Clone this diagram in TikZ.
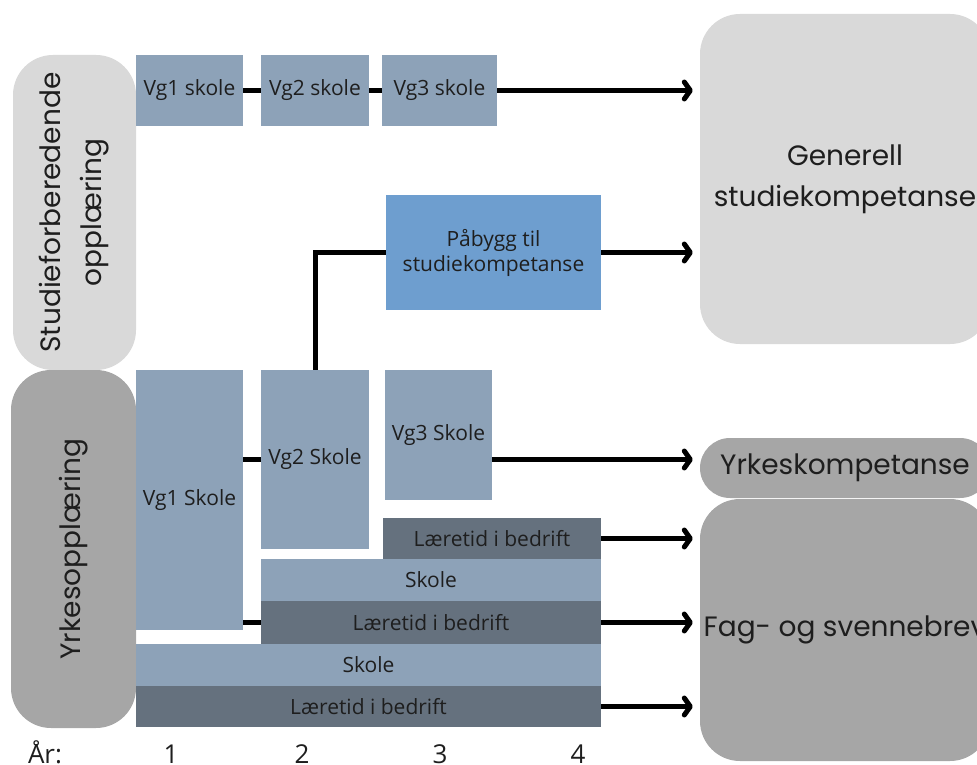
\documentclass[tikz,border=0pt]{standalone}
\usepackage{fontspec}
\setmainfont{Open Sans}
\newfontfamily\labelfont{Poppins}
\usetikzlibrary{arrows.meta}

\definecolor{boxblue}{RGB}{141,162,184}
\definecolor{boxdark}{RGB}{101,113,126}
\definecolor{pabblue}{RGB}{110,158,207}
\definecolor{lgray}{RGB}{217,217,217}
\definecolor{mgray}{RGB}{166,166,166}
\definecolor{ink}{RGB}{30,30,30}

\tikzset{
  box/.style={fill=boxblue, inner sep=0pt, text=ink, align=center,
              font=\fontsize{21}{25}\selectfont},
  dbox/.style={box, fill=boxdark},
  pbox/.style={box, fill=pabblue},
  sz/.style 2 args={minimum width=#1pt, minimum height=#2pt},
  pill/.style={inner sep=0pt, rounded corners=40pt},
  biglabel/.style={text=ink, font=\labelfont\fontsize{28}{41}\selectfont, align=center},
  link/.style={line width=5pt},
  arr/.style={line width=5pt, -{Straight Barb[round, length=6pt, width=17pt]}, shorten >=7pt},
  yearlbl/.style={anchor=base, text=ink, font=\fontsize{26}{30}\selectfont}
}

\begin{document}
\begin{tikzpicture}[x=1pt,y=-1pt]
\useasboundingbox (0,0) rectangle (977,765);
\clip (0,0) rectangle (977,765);

% programme pillars on the left
\node[pill, fill=lgray, sz={123}{315}] (sfo) at (74.5,212.5) {};
\node[biglabel, rotate=90] at (sfo.center) {Studieforberedende\\opplæring};
\node[pill, fill=mgray, sz={125}{358}] (yo) at (73.5,549) {};
\node[biglabel, rotate=90] at (yo.center) {Yrkesopplæring};

% outcomes on the right
\node[pill, fill=lgray, sz={290}{330}, biglabel] (gsk) at (845,179) {Generell\\studiekompetanse};
\node[pill, fill=mgray, rounded corners=30pt, sz={290}{60}, biglabel] (yk) at (845,468) {Yrkeskompetanse};
\node[pill, fill=mgray, sz={290}{262}, biglabel] (fag) at (845,630) {Fag- og svennebrev};

% general studies track
\node[box, sz={107}{71}] (s1) at (189.5,90.5) {Vg1 skole};
\node[box, sz={108}{71}] (s2) at (315,90.5) {Vg2 skole};
\node[box, sz={115}{71}] (s3) at (439.5,90.5) {Vg3 skole};
\node[pbox, sz={215}{115}] (pab) at (493.5,252.5) {Påbygg til\\studiekompetanse};

% vocational track
\node[box, sz={107}{260}] (v1) at (189.5,500) {Vg1 Skole};
\node[box, sz={108}{179}] (v2) at (315,459.5) {Vg2 Skole};
\node[box, sz={107}{130}] (v3) at (438.5,435) {Vg3 Skole};
\node[dbox, sz={218}{41}] (l3) at (492,538.5) {Læretid i bedrift};
\node[box, sz={340}{42}] (k2) at (431,580) {Skole};
\node[dbox, sz={340}{43}] (l2) at (431,622.5) {Læretid i bedrift};
\node[box, sz={465}{42}] (k1) at (368.5,665) {Skole};
\node[dbox, sz={465}{41}] (l1) at (368.5,706.5) {Læretid i bedrift};

% links between school years
\draw[link] (s1.east) -- (s2.west);
\draw[link] (s2.east) -- (s3.west);
\draw[link] (v1.east |- v2.west) -- (v2.west);
\draw[link] (v1.east |- l2.west) -- (l2.west);
\draw[link] (v2.north) |- (pab.west);

% arrows to the outcomes
\draw[arr] (s3.east) -- (s3.east -| gsk.west);
\draw[arr] (pab.east) -- (pab.east -| gsk.west);
\draw[arr] (v3.east |- v2.east) -- (yk.west |- v2.east);
\draw[arr] (l3.east) -- (l3.east -| fag.west);
\draw[arr] (l2.east) -- (l2.east -| fag.west);
\draw[arr] (l1.east) -- (l1.east -| fag.west);

% year scale
\node[yearlbl] (ar) at (45,763) {År:};
\node[yearlbl] (y1) at (171,763) {1};
\node[yearlbl] (y2) at (302,763) {2};
\node[yearlbl] (y3) at (440,763) {3};
\node[yearlbl] (y4) at (578,763) {4};
\end{tikzpicture}
\end{document}
